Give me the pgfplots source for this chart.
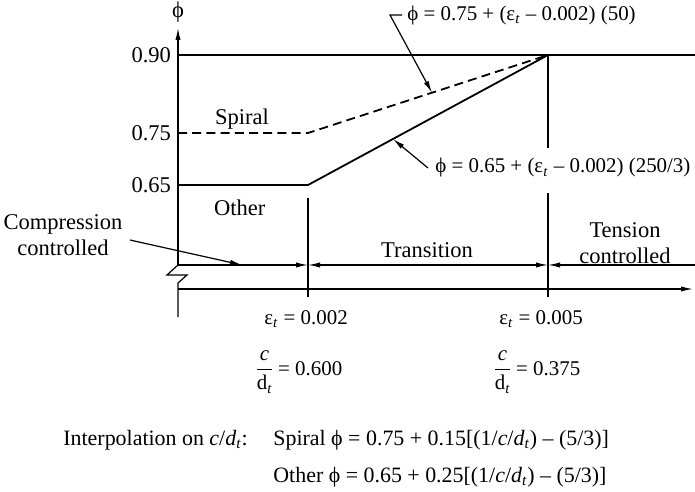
\documentclass[border=0pt]{standalone}
\usepackage{fontspec}
\setmainfont{Liberation Serif}
\usepackage{pgfplots}
\pgfplotsset{compat=1.18}
\usetikzlibrary{arrows.meta}

\newcommand{\fs}{\fontsize{11.3}{13}\selectfont}
\newcommand{\fe}{\fontsize{10.5}{12}\selectfont}
\newcommand{\fb}{\fontsize{11}{12}\selectfont}
\newcommand{\et}{ε\textsubscript{\textit{t}}}
\newcommand{\cdt}{$\displaystyle\frac{\mbox{\itshape c}}{\mbox{d\textsubscript{\itshape t}}}$}

\begin{document}
\begin{tikzpicture}[font=\fs, >={Latex[length=6bp,width=2.6bp]}]
\begin{axis}[
  x=40bp, y=260bp,
  xmin=0.375, xmax=6.84, ymin=0.396, ymax=0.952,
  axis lines=left, axis line style={draw=none},
  xtick=\empty, ytick={0.65,0.75,0.90}, yticklabels={0.65,0.75,0.90},
  major tick length=0pt,
  ticklabel style={font=\fs},
  clip=false,
]
% phi limits
\addplot[black, line width=0.55bp] coordinates {(0.375,0.90)(6.8375,0.90)};
% other members
\addplot[black, line width=0.9bp] coordinates {(0.375,0.65)(2,0.65)(5,0.90)};
% spiral
\addplot[black, line width=0.9bp, dash pattern=on 4.5bp off 2.6bp] coordinates {(0.375,0.75)(2,0.75)(5,0.90)};

% axes
\draw[line width=0.6bp, ->] (axis cs:0.375,0.4962) -- (axis cs:0.375,0.952);
\draw[line width=0.6bp] (axis cs:0.375,0.4962) -- (axis cs:0.2375,0.4769) -- (axis cs:0.4875,0.4769) -- (axis cs:0.375,0.4615) -- (axis cs:0.375,0.396);
\draw[line width=0.6bp, ->] (axis cs:0.375,0.45) -- (axis cs:6.8125,0.45);
\node[inner sep=0pt] at (axis cs:0.375,0.9827) {ϕ};

% verticals
\draw[line width=0.6bp] (axis cs:2,0.625) -- (axis cs:2,0.4346);
\draw[line width=0.6bp] (axis cs:5,0.90) -- (axis cs:5,0.7212);
\draw[line width=0.6bp] (axis cs:5,0.6346) -- (axis cs:5,0.4346);

% zones
\draw[line width=0.6bp, ->] (axis cs:0.375,0.4962) -- (axis cs:2,0.4962);
\draw[line width=0.6bp, <->] (axis cs:2,0.4962) -- (axis cs:5,0.4962);
\draw[line width=0.6bp, <-] (axis cs:5,0.4962) -- (axis cs:6.8375,0.4962);
\draw[line width=0.6bp, ->] (axis cs:-0.225,0.5442) -- (axis cs:1.175,0.4962);
\node[align=center, inner sep=0pt] at (axis cs:-1.0625,0.5538) {Compression\\controlled};
\node[anchor=base] at (axis cs:3.4875,0.5115) {Transition};
\node[align=center, inner sep=0pt] at (axis cs:5.9625,0.5385) {Tension\\controlled};

\node[anchor=base west] at (axis cs:0.75,0.7673) {Spiral};
\node[anchor=base west] at (axis cs:0.7375,0.5904) {Other};

% equations
\draw[line width=0.6bp, ->] (axis cs:3.175,0.9769) -- (axis cs:3.025,0.9769) -- (axis cs:3.55,0.8275);
\node[anchor=base west, inner sep=0pt, font=\fe] at (axis cs:3.2375,0.9673) {ϕ = 0.75 + (\et{} – 0.002) (50)};
\draw[line width=0.6bp, ->] (axis cs:3.5,0.6827) -- (axis cs:3.0625,0.7385);
\node[anchor=base west, inner sep=0pt, font=\fe] at (axis cs:3.5875,0.6731) {ϕ = 0.65 + (\et{} – 0.002) (250/3)};

% below
\node[anchor=base, font=\fe] at (axis cs:1.975,0.3827) {\et{} = 0.002};
\node[anchor=base, font=\fe] at (axis cs:4.9125,0.3827) {\et{} = 0.005};
\node[anchor=base west, inner sep=0pt, font=\fe] at (axis cs:1.325,0.2846) {\cdt{}\,= 0.600};
\node[anchor=base west, inner sep=0pt, font=\fe] at (axis cs:4.3,0.2846) {\cdt{}\,= 0.375};

\node[anchor=base west, inner sep=0pt, font=\fb] at (axis cs:-1.0625,0.15) {Interpolation on \textit{c}/\textit{d\textsubscript{t}}:};
\node[anchor=base west, inner sep=0pt, font=\fb] at (axis cs:1.5625,0.15) {Spiral ϕ = 0.75 + 0.15[(1/\textit{c}/\textit{d\textsubscript{t}}) – (5/3)]};
\node[anchor=base west, inner sep=0pt, font=\fb] at (axis cs:1.5625,0.0788) {Other ϕ = 0.65 + 0.25[(1/\textit{c}/\textit{d\textsubscript{t}}) – (5/3)]};

\coordinate (bl) at (axis cs:-1.85,0.0615);
\coordinate (tr) at (axis cs:6.8375,1.0058);
\end{axis}
\pgfresetboundingbox
\path (bl) rectangle (tr);
\end{tikzpicture}
\end{document}
